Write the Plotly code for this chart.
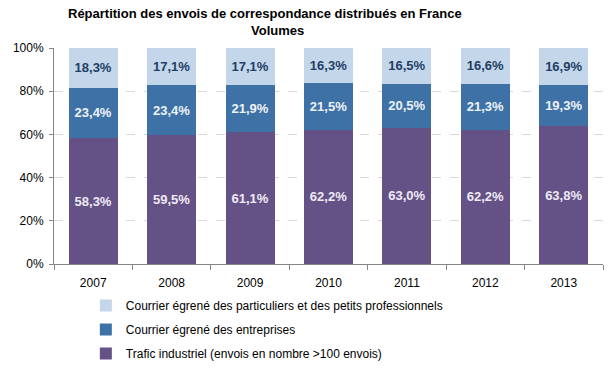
import plotly.graph_objects as go

years = ["2007", "2008", "2009", "2010", "2011", "2012", "2013"]
trafic_industriel = [58.3, 59.5, 61.1, 62.2, 63.0, 62.2, 63.8]
courrier_entreprises = [23.4, 23.4, 21.9, 21.5, 20.5, 21.3, 19.3]
courrier_particuliers = [18.3, 17.1, 17.1, 16.3, 16.5, 16.6, 16.9]
y_ticks = [0, 20, 40, 60, 80, 100]

names = [
    "Trafic industriel (envois en nombre >100 envois)",
    "Courrier égrené des entreprises",
    "Courrier égrené des particuliers et des petits professionnels",
]
colors = ["#645287", "#3E72A6", "#C3D6EA"]
text_colors = ["#EEEAF4", "#EEF2F8", "#1F3F66"]
legend_ranks = [3, 2, 1]

def fmt(v):
    return f"{v:.1f}".replace(".", ",") + "%"

fig = go.Figure()
for i, (name, vals) in enumerate(zip(names, [trafic_industriel, courrier_entreprises, courrier_particuliers])):
    fig.add_trace(go.Bar(
        x=years, y=vals, name=name,
        marker=dict(color=colors[i], line=dict(width=0)),
        text=[fmt(v) for v in vals],
        texttemplate="<b>%{text}</b>",
        textposition="inside", insidetextanchor="middle",
        textfont=dict(family="Liberation Sans, Arial", size=13, color=text_colors[i]),
        textangle=0,
        legendgroup=f"g{i}", legendrank=legend_ranks[i],
        hoverinfo="skip",
    ))

title_font = dict(family="Liberation Sans, Arial", size=13, color="#000000")
fig.update_layout(
    width=611, height=369,
    barmode="stack", bargap=0.375,
    margin=dict(l=54, r=8, t=48, b=105, autoexpand=False),
    paper_bgcolor="white", plot_bgcolor="white",
    font=dict(family="Liberation Sans, Arial", size=12, color="#000000"),
    legend=dict(
        orientation="v", x=0.058, xanchor="left", y=-0.125, yanchor="top",
        traceorder="grouped", tracegroupgap=5,
        font=dict(size=12, color="#000000"), itemwidth=30,
        bgcolor="rgba(0,0,0,0)",
    ),
    uniformtext=dict(mode=False),
    annotations=[
        dict(text="<b>Répartition des envois de correspondance distribués en France</b>",
             xref="paper", yref="paper", x=0.384, xanchor="center",
             y=1.205, yanchor="top", showarrow=False, font=title_font),
        dict(text="<b>Volumes</b>",
             xref="paper", yref="paper", x=0.408, xanchor="center",
             y=1.127, yanchor="top", showarrow=False, font=title_font),
    ],
)
fig.update_yaxes(
    range=[0, 100], tickmode="array", tickvals=y_ticks,
    ticktext=[f"{t}%" for t in y_ticks],
    showgrid=True, gridcolor="#D9D9D9", griddash="dash", gridwidth=1,
    showline=True, linecolor="#868686", linewidth=1,
    ticks="outside", ticklen=4, tickcolor="#868686",
    tickfont=dict(size=12), zeroline=False, ticklabelstandoff=3,
)
fig.update_xaxes(
    showline=True, linecolor="#868686", linewidth=1,
    ticks="outside", ticklen=5, tickcolor="#868686", tickson="boundaries",
    tickfont=dict(size=12), mirror=False, ticklabelstandoff=8,
)

fig.write_html("out.html", config={"displayModeBar": False},
               post_script="document.body.style.margin='0';")
